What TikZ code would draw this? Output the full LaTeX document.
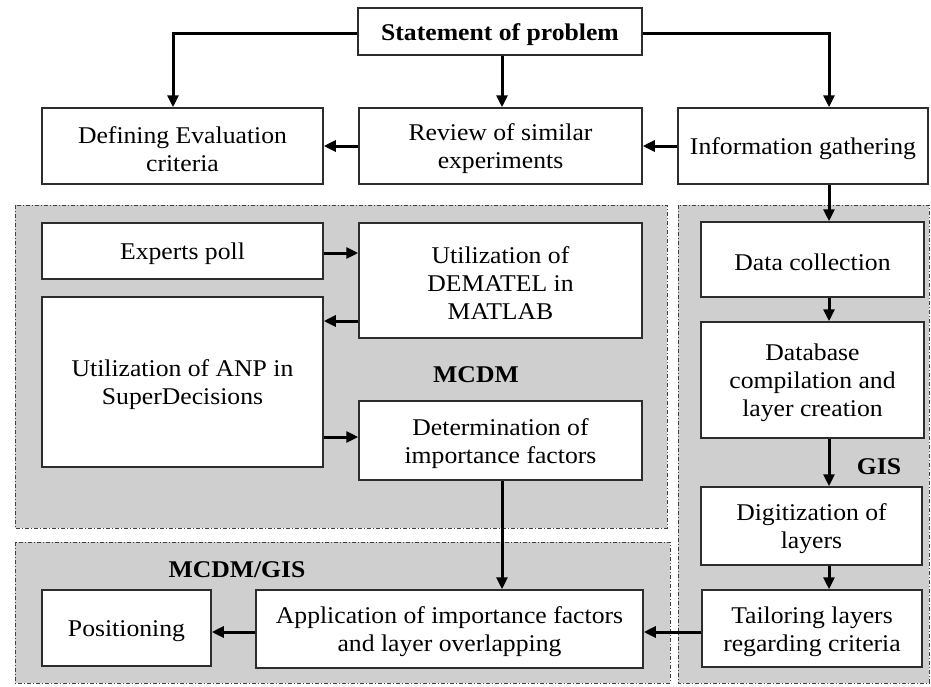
\documentclass[tikz,border=0pt]{standalone}
\usepackage{fontspec}
\setmainfont{Liberation Serif}[FakeStretch=1.07]
\usetikzlibrary{arrows.meta}
\definecolor{panel}{RGB}{207,207,207}
\definecolor{edge}{RGB}{45,45,45}
\tikzset{
  box/.style={draw=edge, line width=1.5pt, fill=white, inner sep=0pt},
  boxtext/.style={align=center, inner sep=0pt, font=\fontsize{24}{28}\selectfont},
  arr/.style={draw=black, line width=3pt,
    -{Triangle[length=12pt,width=11pt]}},
  panelbox/.style={fill=panel, draw=black!75, line width=0.9pt,
    dash pattern=on 4pt off 2pt on 1pt off 2pt},
  tag/.style={font=\fontsize{24}{28}\selectfont\bfseries}
}
% box: name, cx, cy, w, h, text (text sits slightly below the geometric centre)
\newcommand{\boxat}[6]{%
  \node[box, minimum width=#4pt, minimum height=#5pt] (#1) at (#2,#3) {};
  \node[boxtext] at ([yshift=-3pt]#1.center) {#6};}
\begin{document}
\begin{tikzpicture}[x=1pt, y=-1pt]
\useasboundingbox (0,0) rectangle (931,686);
\fill[white] (0,0) rectangle (931,686);

% shaded panels
\path[panelbox] (15,205) rectangle (667,528);
\path[panelbox] (678,205) rectangle (929,683);
\path[panelbox] (15,542) rectangle (670,683);

% helper columns and rows for the connectors
\coordinate (colL) at (173,0);
\coordinate (colM) at (502,0);
\coordinate (colR) at (829,0);
\coordinate (rowA) at (0,253);
\coordinate (rowB) at (0,321);
\coordinate (rowC) at (0,437);
\coordinate (rowD) at (0,632);

% top row
\boxat{stmt}{500}{31.5}{284}{47}{\bfseries Statement of problem}
\boxat{defin}{182.5}{146}{281}{76}{Defining Evaluation\\criteria}
\boxat{review}{500.5}{146}{283}{76}{Review of similar\\experiments}
\boxat{info}{803}{146}{250}{76}{Information gathering}

% MCDM panel
\boxat{experts}{182.5}{251}{281}{56}{Experts poll}
\boxat{dematel}{500.5}{280.5}{283}{115}{Utilization of\\DEMATEL in\\MATLAB}
\boxat{anp}{182.5}{382}{281}{170}{Utilization of ANP in\\SuperDecisions}
\boxat{determ}{500.5}{440.5}{283}{79}{Determination of\\importance factors}
\node[tag] (mcdm) at (476,375) {MCDM};

% GIS panel
\boxat{datacol}{812.5}{259.5}{223}{75}{Data collection}
\boxat{database}{812.5}{380}{223}{116}{Database\\compilation and\\layer creation}
\boxat{digit}{811.5}{526}{221}{78}{Digitization of\\layers}
\boxat{tailor}{812}{628.5}{220}{77}{Tailoring layers\\regarding criteria}
\node[tag] (gis) at (879,467) {GIS};

% MCDM/GIS panel
\boxat{posit}{126.5}{628}{169}{76}{Positioning}
\boxat{applic}{449.5}{629}{387}{78}{Application of importance factors\\and layer overlapping}
\node[tag] (mcdmgis) at (237,570) {MCDM/GIS};

% connectors
\draw[arr] (stmt.west |- 0,33) -| (defin.north -| colL);
\draw[arr] (stmt.south -| colM) -- (review.north -| colM);
\draw[arr] (stmt.east |- 0,33) -| (info.north -| colR);
\draw[arr] (info.west) -- (review.east);
\draw[arr] (review.west) -- (defin.east);

\draw[arr] (experts.east |- rowA) -- (dematel.west |- rowA);
\draw[arr] (dematel.west |- rowB) -- (anp.east |- rowB);
\draw[arr] (anp.east |- rowC) -- (determ.west |- rowC);
\draw[arr] (determ.south -| colM) -- (applic.north -| colM);

\draw[arr] (info.south -| colR) -- (datacol.north -| colR);
\draw[arr] (datacol.south -| colR) -- (database.north -| colR);
\draw[arr] (database.south -| colR) -- (digit.north -| colR);
\draw[arr] (digit.south -| colR) -- (tailor.north -| colR);
\draw[arr] (tailor.west |- rowD) -- (applic.east |- rowD);
\draw[arr] (applic.west |- rowD) -- (posit.east |- rowD);
\end{tikzpicture}
\end{document}
